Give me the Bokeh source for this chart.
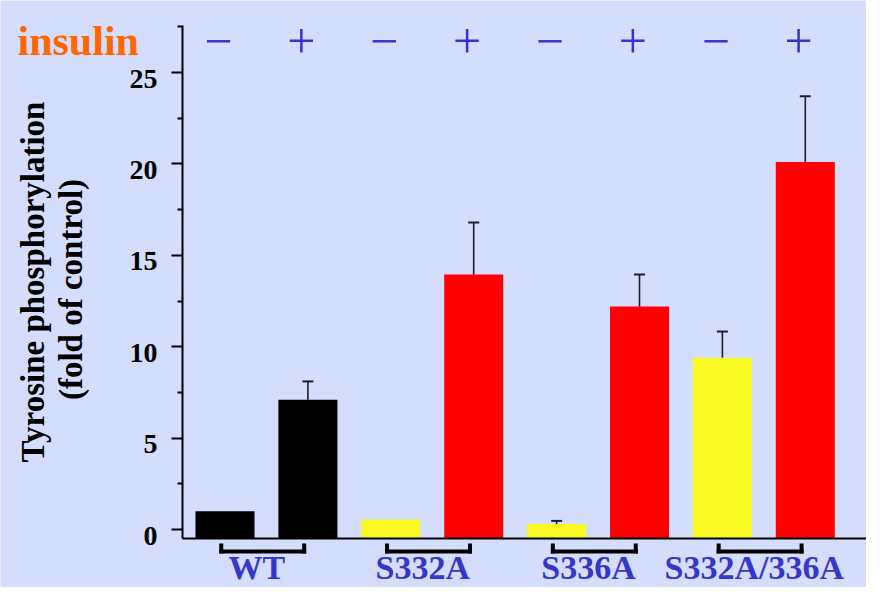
import math
from bokeh.plotting import figure
from bokeh.models import (ColumnDataSource, Range1d, FixedTicker, LabelSet, Label,
                          Whisker, TeeHead, Arrow, LinearAxis)
from bokeh.embed import file_html
from bokeh.resources import INLINE

# ---------------- data ----------------
groups = ["WT", "S332A", "S336A", "S332A/336A"]
insulin = ["\u2212", "+"]
means = [1.0, 7.1, 0.55, 13.95, 0.3, 12.2, 9.4, 20.1]
errors = [0.0, 1.0, 0.0, 2.85, 0.17, 1.75, 1.43, 3.6]
y_ticks = [0, 5, 10, 15, 20, 25]
y_tick_labels = ["0", "5", "10", "15", "20", "25"]
y_minor = [2.5, 7.5, 12.5, 17.5, 22.5, 27.5]

# ---------------- layout helpers (reference pixel -> data) ----------------
PX_X, PX_Y = 82.9, 18.28
X0_REF, Y0_REF = 224.5, 529.0
def dx(ref_x):
    return (ref_x - X0_REF) / PX_X
def dy(ref_y):
    return (Y0_REF - ref_y) / PX_Y

BG = "#d4ddfc"
SERIF = "Liberation Serif"
BLUE = "#3636c8"

W, H = 866, 587
p = figure(width=W, height=H, output_backend="svg", toolbar_location=None,
           x_range=Range1d(dx(0), dx(W)), y_range=Range1d(dy(H), dy(0)),
           x_axis_type=None, y_axis_type=None,
           min_border=0, min_border_left=0, min_border_right=0, min_border_top=0,
           min_border_bottom=0, background_fill_color=BG, border_fill_color=BG,
           outline_line_color=None)
p.grid.visible = False

AX_X = dx(182)   # position of the y axis line
AX_Y = dy(538)   # position of the x axis line

yax = LinearAxis(fixed_location=AX_X, bounds=(AX_Y, dy(25)),
                 ticker=FixedTicker(ticks=y_ticks, minor_ticks=y_minor),
                 axis_line_width=2, axis_line_color="black",
                 major_tick_in=0, major_tick_out=11, minor_tick_in=0, minor_tick_out=5,
                 major_tick_line_width=2, minor_tick_line_width=2,
                 major_tick_line_color="black", minor_tick_line_color="black",
                 major_label_text_color=None)
p.add_layout(yax, "left")
xax = LinearAxis(fixed_location=AX_Y, bounds=(AX_X, dx(W)),
                 ticker=FixedTicker(ticks=[]), axis_line_width=2, axis_line_color="black",
                 major_tick_line_color=None, minor_tick_line_color=None,
                 major_label_text_color=None)
p.add_layout(xax, "below")

# bars
n = len(means)
xs = list(range(n))
signs = [insulin[i % 2] for i in range(n)]
grp_of = [groups[i // 2] for i in range(n)]
colors = []
for g, s in zip(grp_of, signs):
    if g == "WT":
        colors.append("black")
    else:
        colors.append("#f9fa24" if s == insulin[0] else "#ff0000")
src = ColumnDataSource(dict(x=xs, top=means, color=colors))
p.vbar(x="x", top="top", bottom=AX_Y, width=0.712, fill_color="color",
       line_color=None, source=src)

# error bars (upper only)
ex = [x for x, e in zip(xs, errors) if e > 0]
elo = [m for m, e in zip(means, errors) if e > 0]
ehi = [m + e for m, e in zip(means, errors) if e > 0]
esrc = ColumnDataSource(dict(base=ex, lower=elo, upper=ehi))
p.add_layout(Whisker(base="base", lower="lower", upper="upper", source=esrc,
                     line_color="#1e1e28", line_width=1.6, level="overlay",
                     upper_head=TeeHead(size=11, line_width=2, line_color="#1e1e28"),
                     lower_head=None))

# y tick labels
tsrc = ColumnDataSource(dict(x=[dx(157)] * len(y_ticks), y=y_ticks, t=y_tick_labels))
p.add_layout(LabelSet(x="x", y="y", text="t", source=tsrc, y_offset=-6,
                      text_align="right", text_baseline="middle", text_font=SERIF,
                      text_font_style="bold", text_font_size="28px", text_color="black"))

# insulin +/- signs
ssrc = ColumnDataSource(dict(x=[x - 0.08 for x in xs], y=[dy(40.5)] * n, t=signs))
p.add_layout(LabelSet(x="x", y="y", text="t", source=ssrc, text_align="center",
                      text_baseline="middle", text_font="DejaVu Sans",
                      text_font_size="50px", text_color="#3434cc"))

# brackets under groups
bx0, bx1 = [], []
for gi in range(len(groups)):
    bx0.append(xs[2 * gi] - 0.045)
    bx1.append(xs[2 * gi + 1] - 0.045)
ytop, ybot = dy(545), dy(551)
seg = dict(x0=[], y0=[], x1=[], y1=[])
for a, b in zip(bx0, bx1):
    for (sx0, sy0, sx1, sy1) in [(a, ytop, a, ybot), (a, ybot, b, ybot), (b, ybot, b, ytop)]:
        seg["x0"].append(sx0); seg["y0"].append(sy0)
        seg["x1"].append(sx1); seg["y1"].append(sy1)
p.add_layout(Arrow(x_start="x0", y_start="y0", x_end="x1", y_end="y1",
                   source=ColumnDataSource(seg), end=None, line_width=4,
                   line_color="black", line_cap="square"))

# group labels
gx = [(xs[2 * gi] + xs[2 * gi + 1]) / 2 - 0.115 for gi in range(len(groups))]
gsrc = ColumnDataSource(dict(x=gx, y=[dy(578)] * len(groups), t=groups))
p.add_layout(LabelSet(x="x", y="y", text="t", source=gsrc, text_align="center",
                      text_baseline="alphabetic", text_font=SERIF, text_font_style="bold",
                      text_font_size="34px", text_color=BLUE))

# "insulin"
p.add_layout(Label(x=dx(17), y=dy(40), text="insulin", text_align="left",
                   text_baseline="alphabetic", text_font=SERIF, text_font_style="bold",
                   text_font_size="42px", text_color="#ff6600"))

# y axis title (two lines)
p.add_layout(Label(x=dx(32.5), y=dy(281.5), text="Tyrosine phosphorylation",
                   angle=math.pi / 2, text_align="center", text_baseline="alphabetic",
                   text_font=SERIF, text_font_style="bold", text_font_size="33px",
                   text_color="black"))
p.add_layout(Label(x=dx(70), y=dy(289), text="(fold of control)",
                   angle=math.pi / 2, text_align="center", text_baseline="alphabetic",
                   text_font=SERIF, text_font_style="bold", text_font_size="33px",
                   text_color="black"))

open("out.html", "w").write(file_html(p, INLINE))
